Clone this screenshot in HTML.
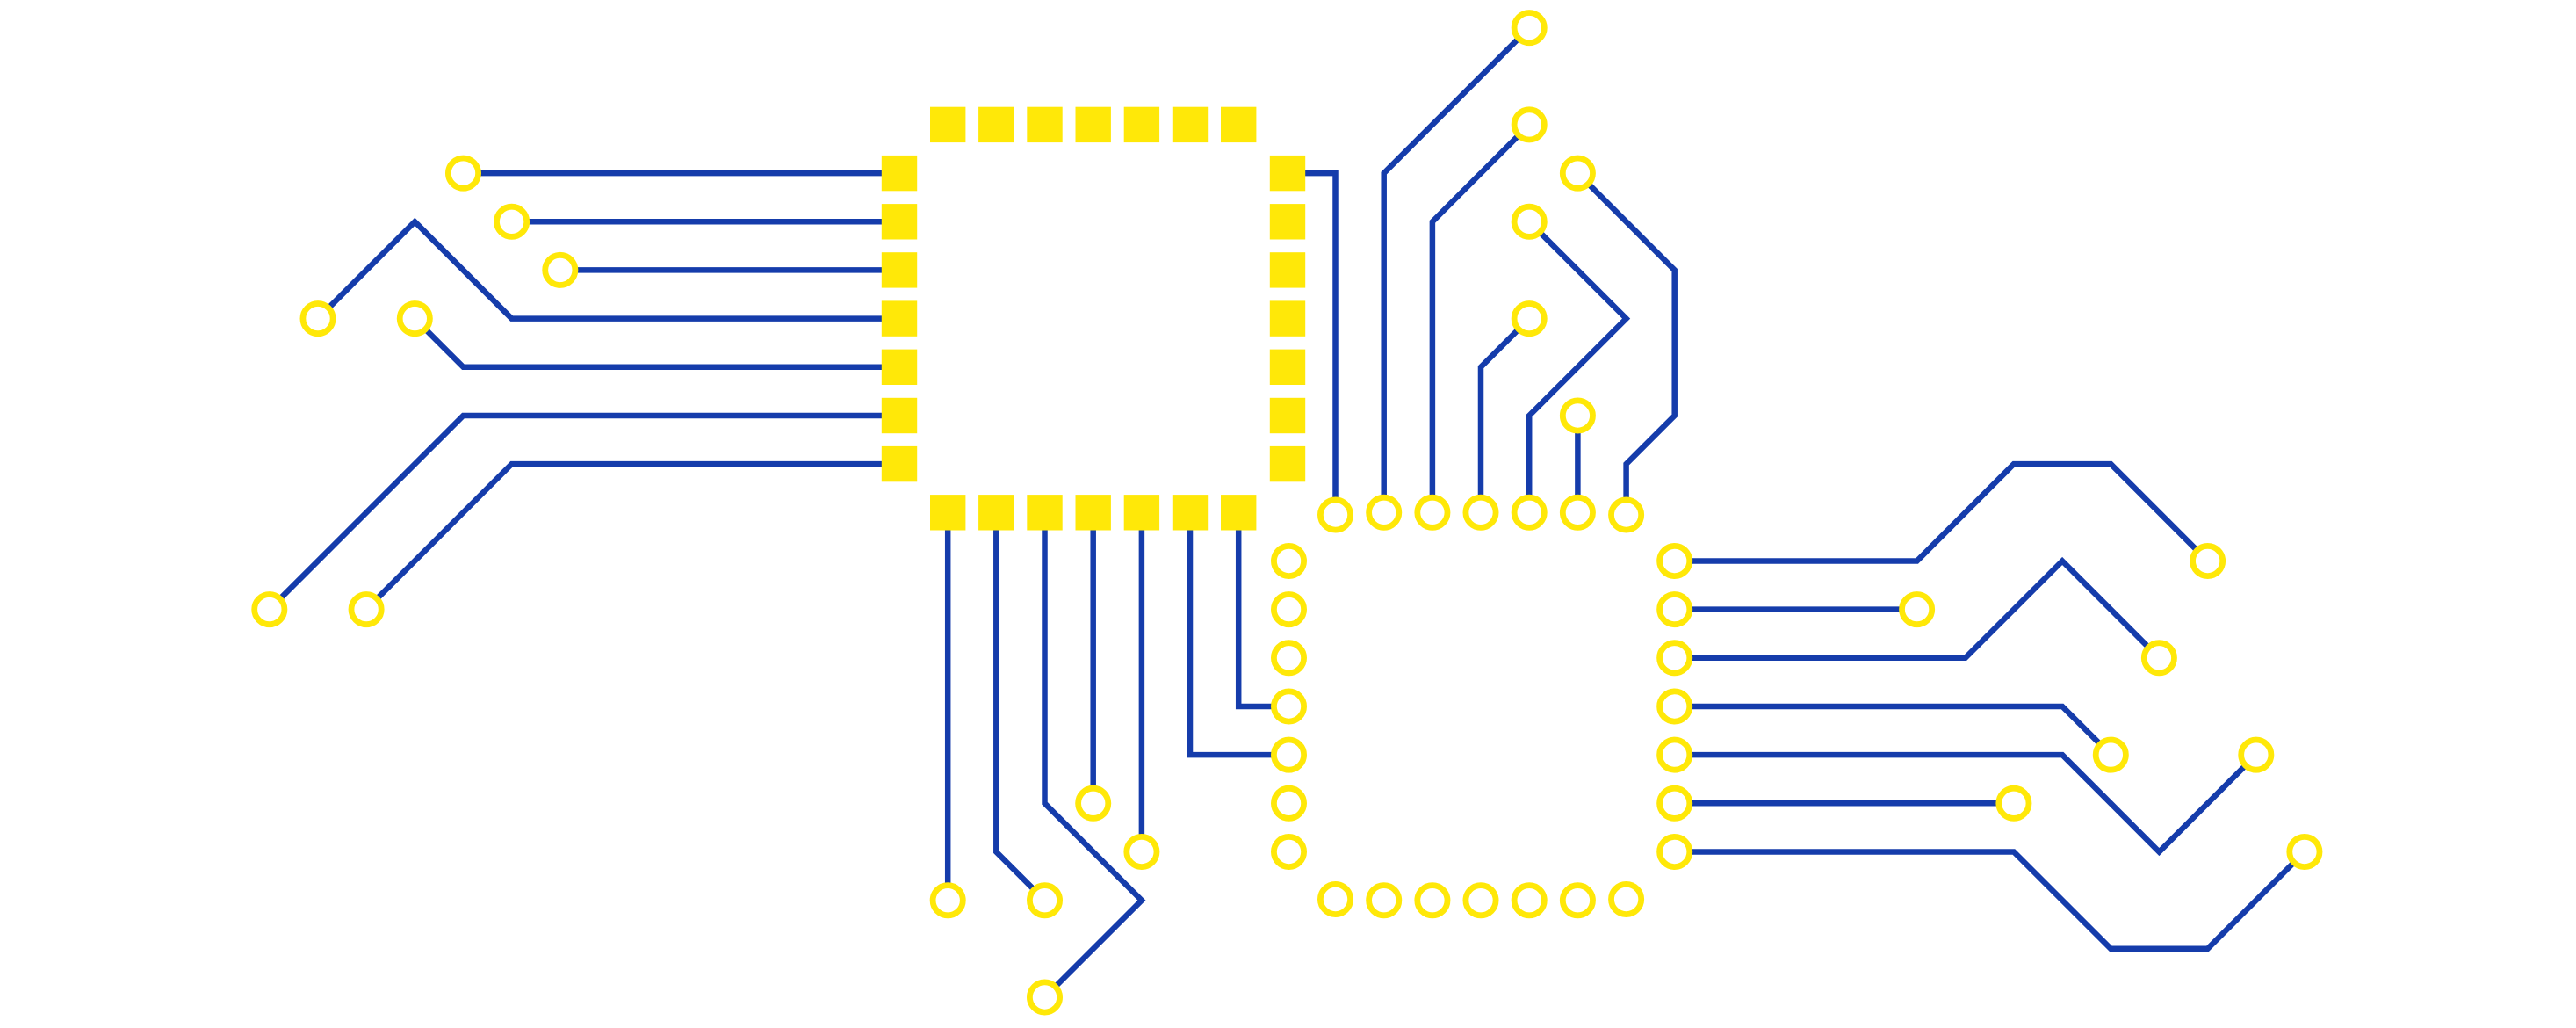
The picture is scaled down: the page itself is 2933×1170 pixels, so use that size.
<!DOCTYPE html>
<html>
<head>
<meta charset="utf-8">
<style>
  html, body { margin: 0; padding: 0; background: #ffffff; }
  svg { display: block; }
</style>
</head>
<body>
<svg width="2933" height="1170" viewBox="0 0 2933 1170" xmlns="http://www.w3.org/2000/svg">
  <rect x="0" y="0" width="2933" height="1170" fill="#ffffff"/>
  <g fill="none" stroke="#153CAB" stroke-width="6.5" stroke-linejoin="miter" stroke-linecap="butt">
    <!-- Left side -->
    <path d="M527.5,197.1 H1024"/>
    <path d="M582.6,252.3 H1024"/>
    <path d="M637.8,307.4 H1024"/>
    <path d="M362.0,362.6 L472.3,252.3 L582.6,362.6 H1024"/>
    <path d="M472.3,362.6 L527.5,417.8 H1024"/>
    <path d="M306.8,693.6 L527.5,473.0 H1024"/>
    <path d="M417.1,693.6 L582.6,528.1 H1024"/>
    <!-- Top right -->
    <path d="M1465.4,197.1 H1520.5 V586"/>
    <path d="M1741.2,31.6 L1575.7,197.1 V583.3"/>
    <path d="M1741.2,141.9 L1630.9,252.3 V583.3"/>
    <path d="M1796.4,197.1 L1906.7,307.4 V473.0 L1851.6,528.1 V586"/>
    <path d="M1741.2,252.3 L1851.6,362.6 L1741.2,473.0 V583.3"/>
    <path d="M1741.2,362.6 L1686.0,417.8 V583.3"/>
    <path d="M1796.4,473.0 V583.3"/>
    <!-- Right side -->
    <path d="M1906.7,638.5 H2182.6 L2292.9,528.1 H2403.3 L2513.6,638.5"/>
    <path d="M1906.7,693.6 H2182.6"/>
    <path d="M1906.7,748.8 H2237.7 L2348.1,638.5 L2458.4,748.8"/>
    <path d="M1906.7,804.0 H2348.1 L2403.3,859.1"/>
    <path d="M1906.7,859.1 H2348.1 L2458.4,969.5 L2568.8,859.1"/>
    <path d="M1906.7,914.3 H2292.9"/>
    <path d="M1906.7,969.5 H2292.9 L2403.3,1079.8 H2513.6 L2623.9,969.5"/>
    <!-- Bottom -->
    <path d="M1079.2,583.3 V1024.7"/>
    <path d="M1134.3,583.3 V969.5 L1189.5,1024.7"/>
    <path d="M1189.5,583.3 V914.3 L1299.9,1024.7 L1189.5,1135.0"/>
    <path d="M1244.7,583.3 V914.3"/>
    <path d="M1299.9,583.3 V969.5"/>
    <path d="M1355.0,583.3 V859.1 H1467"/>
    <path d="M1410.2,583.3 V804.0 H1467"/>
  </g>

  <!-- Pads -->
  <g fill="#FFE808">
    <!-- top row -->
    <rect x="1059" y="121.7" width="40.4" height="40.4"/>
    <rect x="1114.1" y="121.7" width="40.4" height="40.4"/>
    <rect x="1169.3" y="121.7" width="40.4" height="40.4"/>
    <rect x="1224.5" y="121.7" width="40.4" height="40.4"/>
    <rect x="1279.7" y="121.7" width="40.4" height="40.4"/>
    <rect x="1334.8" y="121.7" width="40.4" height="40.4"/>
    <rect x="1390" y="121.7" width="40.4" height="40.4"/>
    <!-- bottom row -->
    <rect x="1059" y="563.1" width="40.4" height="40.4"/>
    <rect x="1114.1" y="563.1" width="40.4" height="40.4"/>
    <rect x="1169.3" y="563.1" width="40.4" height="40.4"/>
    <rect x="1224.5" y="563.1" width="40.4" height="40.4"/>
    <rect x="1279.7" y="563.1" width="40.4" height="40.4"/>
    <rect x="1334.8" y="563.1" width="40.4" height="40.4"/>
    <rect x="1390" y="563.1" width="40.4" height="40.4"/>
    <!-- left column -->
    <rect x="1003.8" y="176.9" width="40.4" height="40.4"/>
    <rect x="1003.8" y="232.1" width="40.4" height="40.4"/>
    <rect x="1003.8" y="287.2" width="40.4" height="40.4"/>
    <rect x="1003.8" y="342.4" width="40.4" height="40.4"/>
    <rect x="1003.8" y="397.6" width="40.4" height="40.4"/>
    <rect x="1003.8" y="452.8" width="40.4" height="40.4"/>
    <rect x="1003.8" y="507.9" width="40.4" height="40.4"/>
    <!-- right column -->
    <rect x="1445.8" y="176.9" width="40.4" height="40.4"/>
    <rect x="1445.8" y="232.1" width="40.4" height="40.4"/>
    <rect x="1445.8" y="287.2" width="40.4" height="40.4"/>
    <rect x="1445.8" y="342.4" width="40.4" height="40.4"/>
    <rect x="1445.8" y="397.6" width="40.4" height="40.4"/>
    <rect x="1445.8" y="452.8" width="40.4" height="40.4"/>
    <rect x="1445.8" y="507.9" width="40.4" height="40.4"/>
  </g>

  <!-- Vias -->
  <g fill="#ffffff" stroke="#FFE808" stroke-width="6.8">
    <!-- left -->
    <circle cx="527.5" cy="197.1" r="17.1"/>
    <circle cx="582.6" cy="252.3" r="17.1"/>
    <circle cx="637.8" cy="307.4" r="17.1"/>
    <circle cx="362.0" cy="362.6" r="17.1"/>
    <circle cx="472.3" cy="362.6" r="17.1"/>
    <circle cx="306.8" cy="693.6" r="17.1"/>
    <circle cx="417.1" cy="693.6" r="17.1"/>
    <!-- top right -->
    <circle cx="1741.2" cy="31.6" r="17.1"/>
    <circle cx="1741.2" cy="141.9" r="17.1"/>
    <circle cx="1796.4" cy="197.1" r="17.1"/>
    <circle cx="1741.2" cy="252.3" r="17.1"/>
    <circle cx="1741.2" cy="362.6" r="17.1"/>
    <circle cx="1796.4" cy="473.0" r="17.1"/>
    <!-- row r=7 -->
    <circle cx="1520.5" cy="586" r="17.1"/>
    <circle cx="1575.7" cy="583.3" r="17.1"/>
    <circle cx="1630.9" cy="583.3" r="17.1"/>
    <circle cx="1686.0" cy="583.3" r="17.1"/>
    <circle cx="1741.2" cy="583.3" r="17.1"/>
    <circle cx="1796.4" cy="583.3" r="17.1"/>
    <circle cx="1851.6" cy="586" r="17.1"/>
    <!-- column c=8 -->
    <circle cx="1467.5" cy="638.5" r="17.1"/>
    <circle cx="1467.5" cy="693.6" r="17.1"/>
    <circle cx="1467.5" cy="748.8" r="17.1"/>
    <circle cx="1467.5" cy="804.0" r="17.1"/>
    <circle cx="1467.5" cy="859.1" r="17.1"/>
    <circle cx="1467.5" cy="914.3" r="17.1"/>
    <circle cx="1467.5" cy="969.5" r="17.1"/>
    <!-- row r=15 -->
    <circle cx="1520.5" cy="1023.5" r="17.1"/>
    <circle cx="1575.7" cy="1024.7" r="17.1"/>
    <circle cx="1630.9" cy="1024.7" r="17.1"/>
    <circle cx="1686.0" cy="1024.7" r="17.1"/>
    <circle cx="1741.2" cy="1024.7" r="17.1"/>
    <circle cx="1796.4" cy="1024.7" r="17.1"/>
    <circle cx="1851.6" cy="1023.5" r="17.1"/>
    <!-- column c=16 -->
    <circle cx="1906.7" cy="638.5" r="17.1"/>
    <circle cx="1906.7" cy="693.6" r="17.1"/>
    <circle cx="1906.7" cy="748.8" r="17.1"/>
    <circle cx="1906.7" cy="804.0" r="17.1"/>
    <circle cx="1906.7" cy="859.1" r="17.1"/>
    <circle cx="1906.7" cy="914.3" r="17.1"/>
    <circle cx="1906.7" cy="969.5" r="17.1"/>
    <!-- right ends -->
    <circle cx="2513.6" cy="638.5" r="17.1"/>
    <circle cx="2182.6" cy="693.6" r="17.1"/>
    <circle cx="2458.4" cy="748.8" r="17.1"/>
    <circle cx="2403.3" cy="859.1" r="17.1"/>
    <circle cx="2568.8" cy="859.1" r="17.1"/>
    <circle cx="2292.9" cy="914.3" r="17.1"/>
    <circle cx="2623.9" cy="969.5" r="17.1"/>
    <!-- bottom ends -->
    <circle cx="1079.2" cy="1024.7" r="17.1"/>
    <circle cx="1189.5" cy="1024.7" r="17.1"/>
    <circle cx="1189.5" cy="1135.0" r="17.1"/>
    <circle cx="1244.7" cy="914.3" r="17.1"/>
    <circle cx="1299.9" cy="969.5" r="17.1"/>
  </g>
</svg>
</body>
</html>
